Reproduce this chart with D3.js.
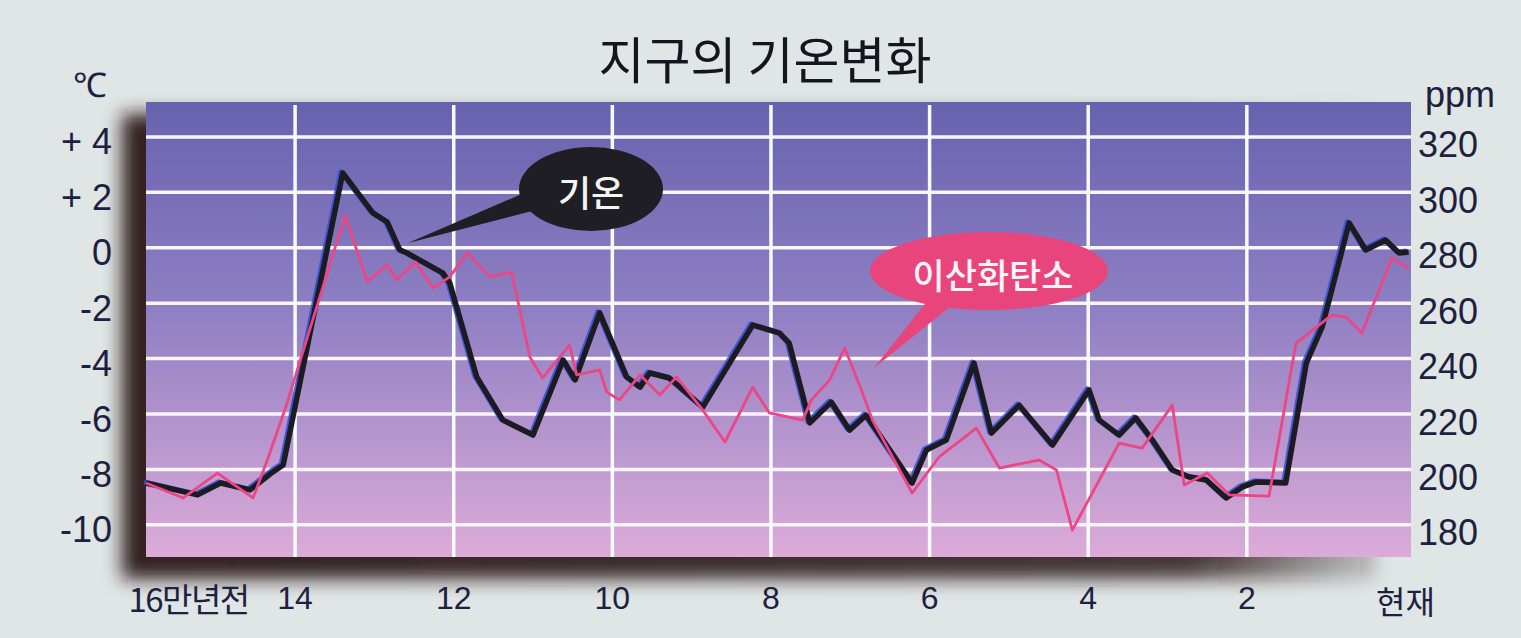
<!DOCTYPE html>
<html><head><meta charset="utf-8">
<script src="https://cdn.jsdelivr.net/npm/d3@7"></script>
<style>
html,body{margin:0;padding:0;background:#e0e5e5;}
svg{display:block;}
</style></head>
<body>
<svg id="c" width="1521" height="638"></svg>
<script>
// ---- data ----
const title = "지구의 기온변화";
const tempUnit = "℃";
const co2Unit = "ppm";
// time in 만년 (ten-thousand years) before present
const tempTime = [15.88,15.23,14.94,14.57,14.28,14.15,13.94,13.40,13.02,12.84,12.68,12.59,12.14,12.05,11.71,11.38,11.00,10.62,10.47,10.16,9.82,9.65,9.53,9.28,8.86,8.23,7.89,7.77,7.51,7.24,7.01,6.80,6.22,6.04,5.79,5.44,5.22,4.87,4.45,3.99,3.86,3.61,3.40,3.19,2.94,2.73,2.51,2.26,2.06,1.88,1.51,1.25,1.05,0.71,0.50,0.25,0.08,-0.04];
const tempValue = [-8.49,-8.92,-8.49,-8.74,-8.09,-7.84,-4.88,2.70,1.26,0.93,-0.08,-0.19,-0.91,-1.27,-4.66,-6.22,-6.76,-4.05,-4.77,-2.35,-4.66,-5.03,-4.52,-4.70,-5.75,-2.79,-3.08,-3.44,-6.32,-5.57,-6.58,-6.04,-8.49,-7.30,-6.94,-4.16,-6.69,-5.68,-7.12,-5.13,-6.22,-6.76,-6.14,-6.94,-8.02,-8.27,-8.38,-9.03,-8.64,-8.45,-8.49,-4.16,-2.86,0.90,-0.08,0.28,-0.19,-0.15];
const co2Time = [15.88,15.41,14.98,14.53,14.35,14.10,13.37,13.09,12.84,12.72,12.48,12.26,12.05,11.83,11.54,11.27,11.04,10.88,10.54,10.45,10.16,10.07,9.91,9.65,9.40,9.19,8.86,8.58,8.23,8.02,7.60,7.49,7.26,7.07,6.86,6.72,6.22,5.88,5.41,5.12,4.62,4.40,4.20,3.86,3.61,3.32,2.94,2.79,2.50,2.22,1.72,1.38,0.93,0.75,0.55,0.17,-0.04];
const co2Value = [195.1,189.7,198.7,189.7,203.4,224.0,291.8,267.7,273.8,268.4,274.9,265.5,269.5,278.1,269.5,271.3,240.6,233.0,244.9,234.1,235.9,227.9,225.1,234.1,226.9,233.4,221.4,209.9,229.7,220.4,217.8,225.1,232.3,243.8,228.7,217.8,191.5,204.5,214.9,200.5,203.4,199.8,178.1,196.2,209.5,207.7,223.2,194.4,198.7,190.8,190.4,245.6,255.7,255.0,249.2,276.3,272.7];
const tempTicks = [4,2,0,-2,-4,-6,-8,-10];
const tempTickLabels = ["+ 4","+ 2","0","-2","-4","-6","-8","-10"];
const co2Ticks = [320,300,280,260,240,220,200,180];
const timeTicks = [14,12,10,8,6,4,2];
const timeStartLabel = "16만년전";
const timeEndLabel = "현재";
const tempLabel = "기온";
const co2Label = "이산화탄소";

// ---- layout ----
const L = 146, R = 1411, T = 102, B = 557;
const svg = d3.select("#c");
const x = d3.scaleLinear().domain([15.88, -0.07]).range([L, R]);
const yT = d3.scaleLinear().domain([5.26, -11.16]).range([T, B]);
const yC = d3.scaleLinear().domain([332.6, 168.4]).range([T, B]);

const defs = svg.append("defs");
const g = defs.append("linearGradient").attr("id","bg").attr("x1",0).attr("y1",0).attr("x2",0).attr("y2",1);
g.append("stop").attr("offset","0%").attr("stop-color","#6762ae");
g.append("stop").attr("offset","45%").attr("stop-color","#8e7fc3");
g.append("stop").attr("offset","100%").attr("stop-color","#dcabd8");
const sg = defs.append("linearGradient").attr("id","sh").attr("x1",0).attr("y1",0).attr("x2",1).attr("y2",0);
sg.append("stop").attr("offset","0%").attr("stop-color","#2a1616").attr("stop-opacity",0.95);
sg.append("stop").attr("offset","85%").attr("stop-color","#2a1616").attr("stop-opacity",0.85);
sg.append("stop").attr("offset","100%").attr("stop-color","#2a1616").attr("stop-opacity",0.2);
defs.append("filter").attr("id","blur").attr("x","-10%").attr("y","-10%").attr("width","120%").attr("height","130%")
  .append("feGaussianBlur").attr("stdDeviation",9);

// page
svg.append("rect").attr("width",1521).attr("height",638).attr("fill","#e0e5e5");

// shadow
svg.append("rect").attr("x",L-24).attr("y",T+12).attr("width",R-L-12).attr("height",B-T+10)
  .attr("fill","url(#sh)").attr("filter","url(#blur)");

// plot bg
svg.append("rect").attr("x",L).attr("y",T).attr("width",R-L).attr("height",B-T).attr("fill","url(#bg)");

// grid
svg.append("g").selectAll("line").data(tempTicks).join("line")
  .attr("x1",L).attr("x2",R).attr("y1",d=>yT(d)).attr("y2",d=>yT(d))
  .attr("stroke","#fbf4fb").attr("stroke-width",3.5);
svg.append("g").selectAll("line").data(timeTicks).join("line")
  .attr("x1",d=>x(d)).attr("x2",d=>x(d)).attr("y1",T+3).attr("y2",B)
  .attr("stroke","#f6fbff").attr("stroke-width",3.5);

// lines
const lineT = d3.line().x((d,i)=>x(tempTime[i])).y(d=>yT(d));
const lineC = d3.line().x((d,i)=>x(co2Time[i])).y(d=>yC(d));
svg.append("path").datum(tempValue).attr("d",lineT).attr("fill","none")
  .attr("stroke","#2f4fd8").attr("stroke-width",5).attr("stroke-linejoin","round")
  .attr("transform","translate(-2,-1)").attr("opacity",0.85);
svg.append("path").datum(tempValue).attr("d",lineT).attr("fill","none")
  .attr("stroke","#1d1b22").attr("stroke-width",5.5).attr("stroke-linejoin","round");
svg.append("path").datum(co2Value).attr("d",lineC).attr("fill","none")
  .attr("stroke","#ec4684").attr("stroke-width",2.8).attr("stroke-linejoin","round");

// callouts
const cb = svg.append("g");
cb.append("path").attr("d","M524,193 L532,211 L408,243 Z").attr("fill","#1e1e24");
cb.append("ellipse").attr("cx",591).attr("cy",189).attr("rx",72).attr("ry",42).attr("fill","#1e1e24");
cb.append("text").attr("x",591).attr("y",191).attr("text-anchor","middle").attr("dominant-baseline","central")
  .attr("font-family","'Noto Sans CJK KR'").attr("font-size",36).attr("font-weight",500).attr("fill","#f4f4f4").text(tempLabel);
const cp = svg.append("g");
cp.append("path").attr("d","M928,300 L956,302 L874,368 Z").attr("fill","#e8457c");
cp.append("ellipse").attr("cx",989).attr("cy",271).attr("rx",119).attr("ry",39).attr("fill","#e8457c");
cp.append("text").attr("x",993).attr("y",273).attr("text-anchor","middle").attr("dominant-baseline","central")
  .attr("font-family","'Noto Sans CJK KR'").attr("font-size",35).attr("font-weight",500).attr("fill","#fff4f6").text(co2Label);

// axes text
const numFont = "'Liberation Sans',Arial,sans-serif";
const txtCol = "#1d2140";
svg.append("g").selectAll("text").data(tempTicks).join("text")
  .attr("x",112).attr("y",d=>yT(d)+5).attr("text-anchor","end").attr("dominant-baseline","central")
  .attr("font-family",numFont).attr("font-size",36).attr("fill",txtCol)
  .text((d,i)=>tempTickLabels[i]);
svg.append("g").selectAll("text").data(co2Ticks).join("text")
  .attr("x",1418).attr("y",d=>yC(d)+8).attr("text-anchor","start").attr("dominant-baseline","central")
  .attr("font-family",numFont).attr("font-size",36).attr("fill",txtCol)
  .text(d=>d);
svg.append("g").selectAll("text").data(timeTicks).join("text")
  .attr("x",d=>x(d)).attr("y",598).attr("text-anchor","middle").attr("dominant-baseline","central")
  .attr("font-family",numFont).attr("font-size",32).attr("fill",txtCol)
  .text(d=>d);
svg.append("text").attr("x",x(16)-8).attr("y",598).attr("text-anchor","start").attr("dominant-baseline","central")
  .attr("font-family","'Noto Sans CJK KR'").attr("font-size",33).attr("fill",txtCol).attr("letter-spacing",-1.5).text(timeStartLabel);
svg.append("text").attr("x",x(0)).attr("y",600).attr("text-anchor","middle").attr("dominant-baseline","central")
  .attr("font-family","'Noto Sans CJK KR'").attr("font-size",32).attr("fill",txtCol).text(timeEndLabel);

svg.append("text").attr("x",90).attr("y",85).attr("text-anchor","middle").attr("dominant-baseline","central")
  .attr("font-family",numFont).attr("font-size",34).attr("fill",txtCol).text(tempUnit);
svg.append("text").attr("x",1460).attr("y",94).attr("text-anchor","middle").attr("dominant-baseline","central")
  .attr("font-family",numFont).attr("font-size",36).attr("fill",txtCol).text(co2Unit);
svg.append("text").attr("x",765).attr("y",57).attr("text-anchor","middle").attr("dominant-baseline","central")
  .attr("font-family","'Noto Sans CJK KR'").attr("font-size",50).attr("fill","#15151f").text(title);
</script>
</body></html>
